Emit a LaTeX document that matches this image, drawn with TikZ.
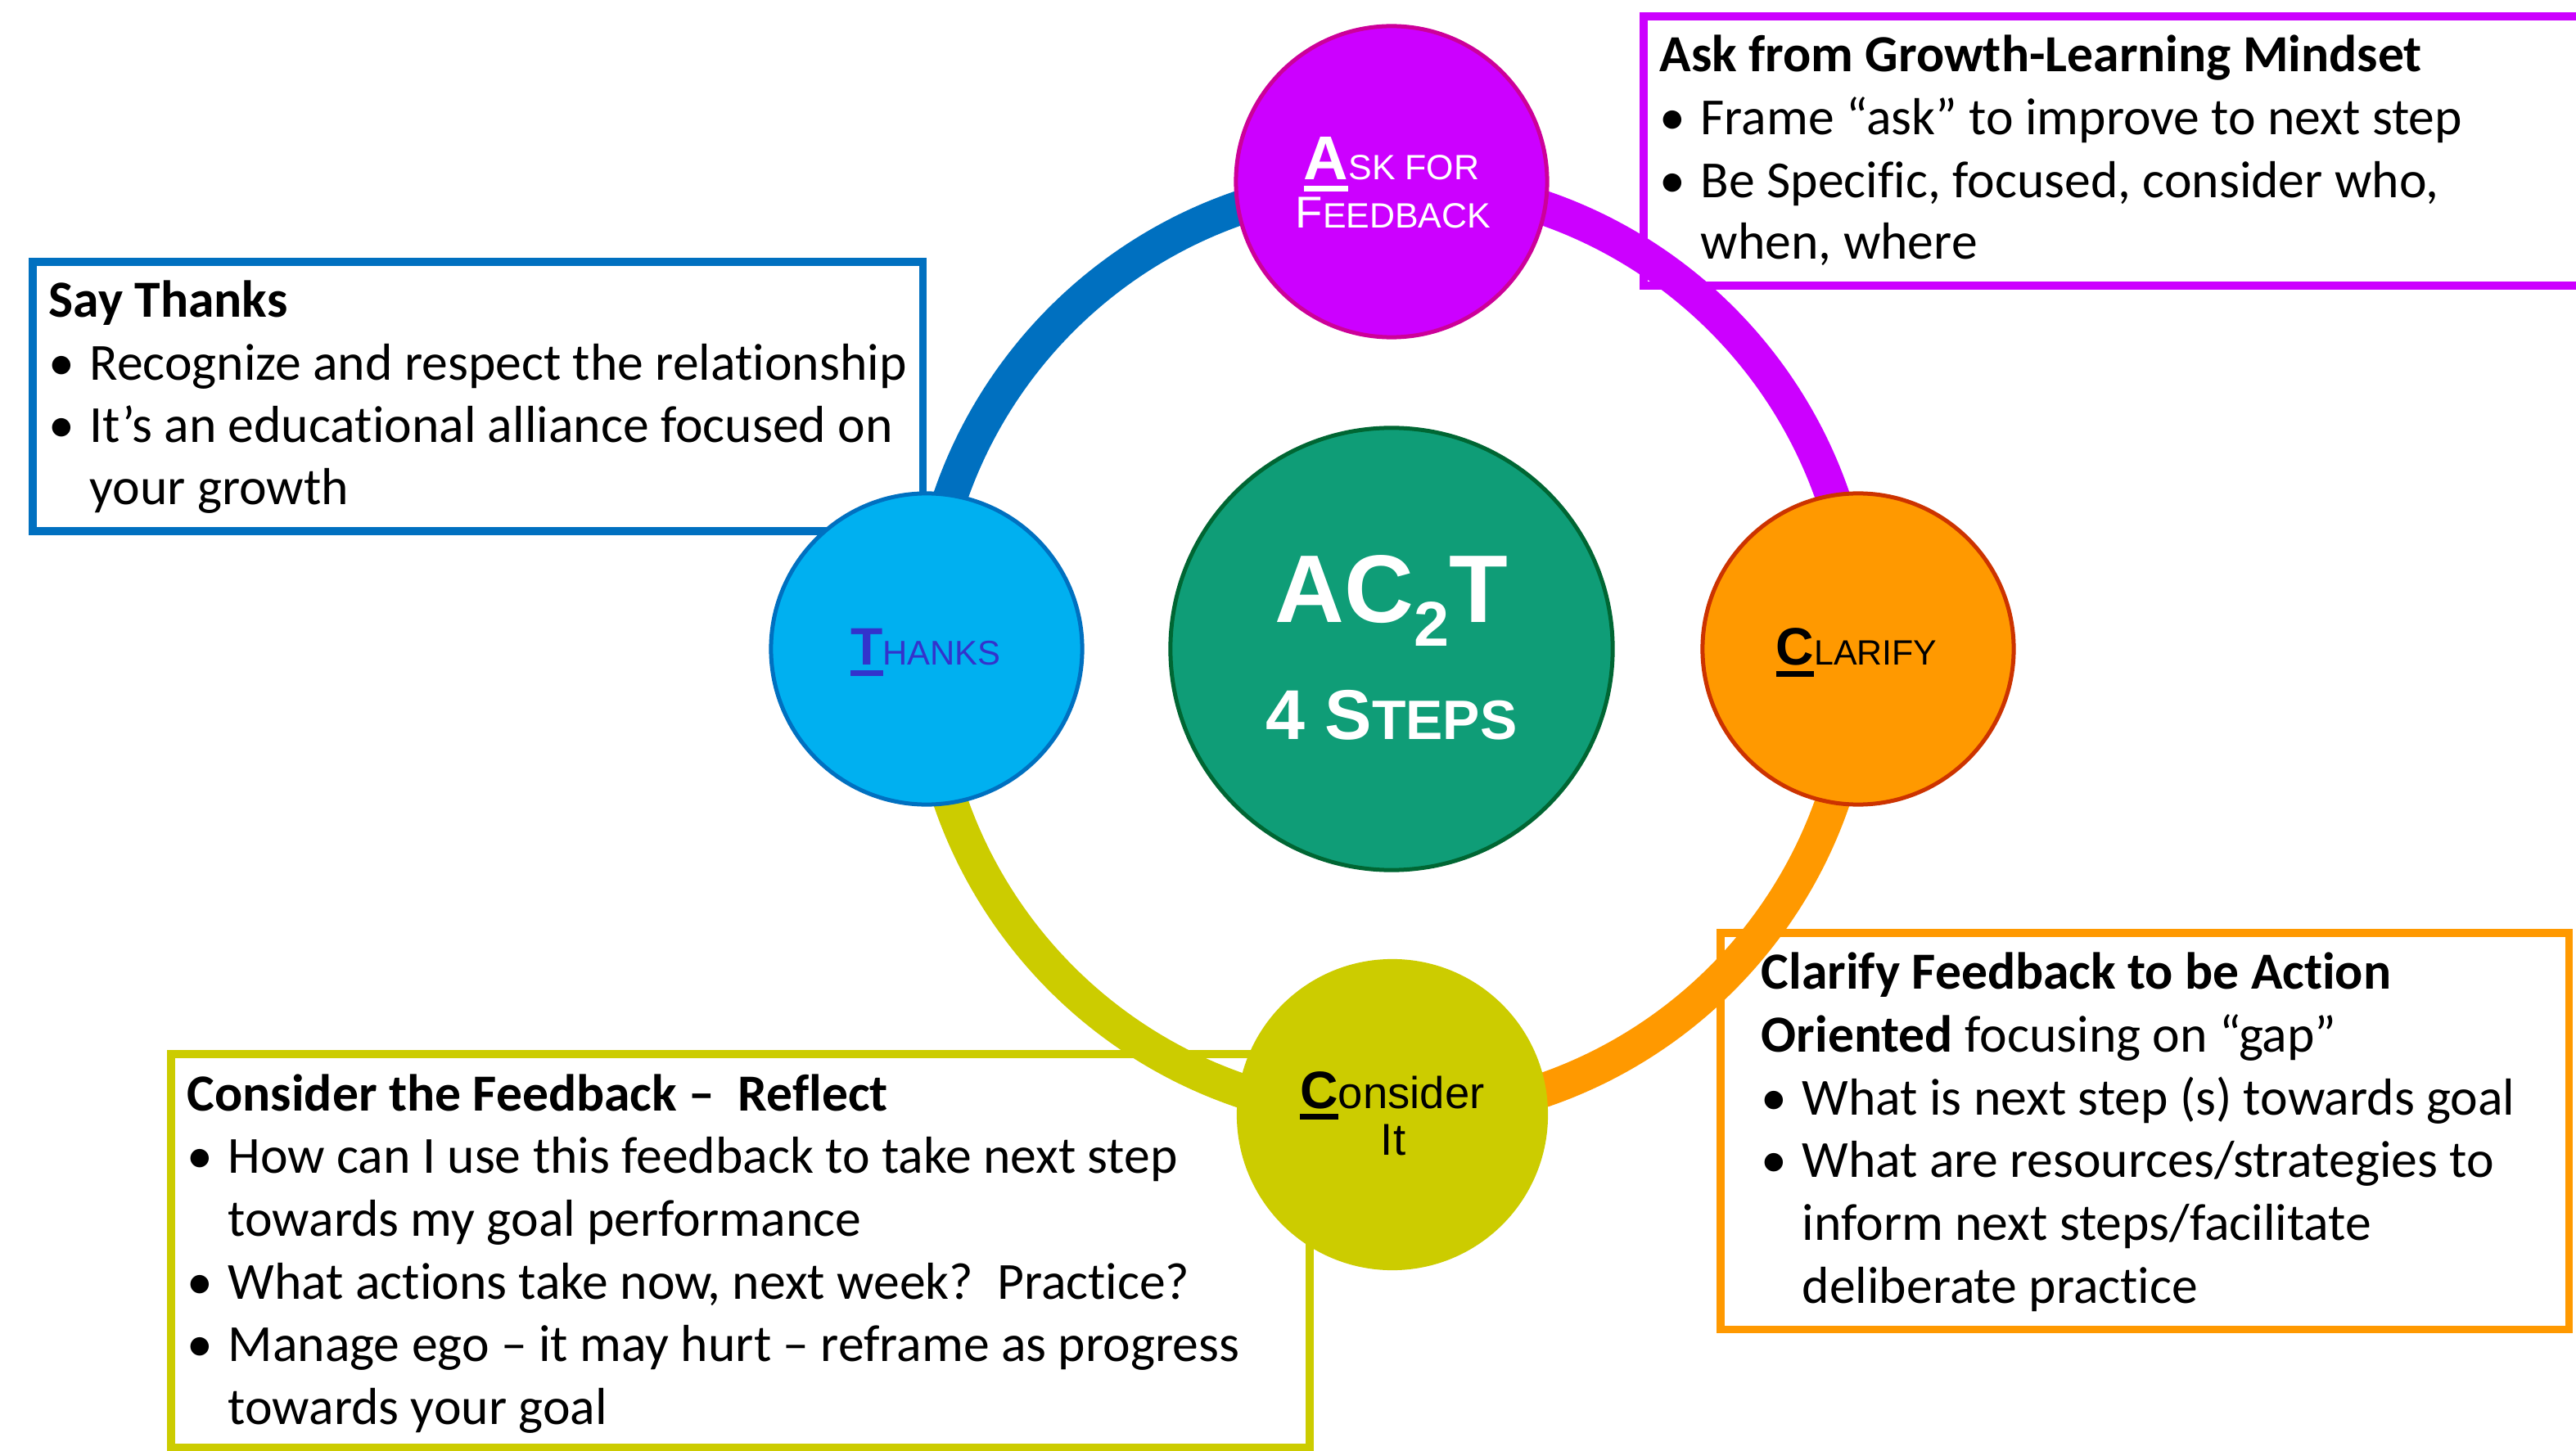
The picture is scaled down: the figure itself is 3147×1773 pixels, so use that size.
\documentclass[tikz,border=0pt]{standalone}
\usepackage{fontspec}
\setmainfont{Carlito}[Ligatures=NoCommon]
\newfontfamily\arialfont{Liberation Sans}
\usetikzlibrary{calc}

\definecolor{tblue}{HTML}{0070C0}
\definecolor{tmag}{HTML}{CC00FF}
\definecolor{torange}{HTML}{FF9900}
\definecolor{tolive}{HTML}{CCCC00}
\definecolor{tsky}{HTML}{00B0F0}
\definecolor{tindigo}{HTML}{3333CC}
\definecolor{tpink}{HTML}{CC0099}
\definecolor{trust}{HTML}{CC3300}
\definecolor{tgreen}{HTML}{0F9D77}
\definecolor{tdkgreen}{HTML}{006633}

% a letter with a heavy underline, as used for the step initials
\newcommand\ulc[1]{\setbox0\hbox{#1}\rlap{\rule[-4pt]{\wd0}{2pt}}\box0}
% one bulleted line of box text: name, x, y, text
\newcommand\bitem[4]{%
  \node[bodytext] (#1b) at (#2,#3) {\textbullet};
  \node[bodytext] (#1) at (#2+50,#3) {#4};}

\begin{document}
\begin{tikzpicture}[x=0.01cm,y=0.01cm,
  infobox/.style={draw, fill=white, line width=0.095cm, rectangle, inner sep=0pt, outer sep=0pt, anchor=north west},
  ring/.style={line width=0.42cm},
  stepcircle/.style={circle, inner sep=0pt, outer sep=0pt, minimum size=3.8cm, line width=0.05cm},
  bodytext/.style={anchor=base west, inner sep=0pt, font=\fontsize{18.1}{21}\selectfont},
  steplabel/.style={anchor=base, inner sep=0pt, font=\arialfont},
]
\useasboundingbox (0,0) rectangle (3147,-1773);
\clip (0,0) rectangle (3147,-1773);
\fill[white] (0,0) rectangle (3147,-1773);

% text boxes
\node[infobox, draw=tblue, minimum width=10.87cm, minimum height=3.29cm] (thanksbox) at (40,-320) {};
\node[infobox, draw=tmag, minimum width=11.62cm, minimum height=3.29cm] (askbox) at (2008,-20) {};
\node[infobox, draw=torange, minimum width=10.36cm, minimum height=4.84cm] (clarifybox) at (2102,-1140) {};
\node[infobox, draw=tolive, minimum width=13.90cm, minimum height=4.80cm] (considerbox) at (209,-1288) {};

% the ring joining the four steps
\coordinate (hub) at (1700,-793);
\draw[ring, tblue]   (hub) ++(180:570) arc[start angle=180, end angle=90, radius=570];
\draw[ring, tmag]    (hub) ++(90:570)  arc[start angle=90, end angle=0, radius=570];
\draw[ring, torange] (hub) ++(0:570)   arc[start angle=0, end angle=-90, radius=570];
\draw[ring, tolive]  (hub) ++(-90:570) arc[start angle=-90, end angle=-180, radius=570];

% step circles
\node[stepcircle, fill=tmag, draw=tpink] (ask) at (1700,-222) {};
\node[stepcircle, fill=tsky, draw=tblue] (thanks) at (1132,-793) {};
\node[stepcircle, fill=torange, draw=trust] (clarify) at (2270,-793) {};
\node[stepcircle, fill=tolive] (consider) at (1701,-1362) {};
\node[circle, inner sep=0pt, minimum size=5.4cm, fill=tgreen, draw=tdkgreen, line width=0.05cm] (core) at (hub) {};

% step labels
\node[steplabel, text=white] (askl1) at (1700,-220)
  {\fontsize{21.5}{24}\selectfont\bfseries\ulc{A}\mdseries\fontsize{12.2}{14}\selectfont SK FOR};
\node[steplabel, text=white] (askl2) at (1702,-279)
  {\fontsize{15.5}{18}\selectfont F\fontsize{12.2}{14}\selectfont EEDBACK};
\node[steplabel, text=tindigo] (thanksl) at (1131,-812)
  {\fontsize{18.3}{21}\selectfont\bfseries\ulc{T}\mdseries\fontsize{11.9}{14}\selectfont HANKS};
\node[steplabel, text=black] (clarifyl) at (2268,-813)
  {\fontsize{18.3}{21}\selectfont\bfseries\ulc{C}\mdseries\fontsize{12.2}{14}\selectfont LARIFY};
\node[steplabel, text=black] (considerl1) at (1701,-1354)
  {\fontsize{18.3}{21}\selectfont\bfseries\ulc{C}\mdseries\fontsize{15.5}{18}\selectfont onsider};
\node[steplabel, text=black] (considerl2) at (1702,-1411)
  {\fontsize{15.5}{18}\selectfont It};
\node[steplabel, text=white] (corel1) at (1700,-761)
  {\bfseries\fontsize{33.4}{38}\selectfont AC\raisebox{-8.2pt}{\fontsize{22}{25}\selectfont 2}T};
\node[steplabel, text=white] (corel2) at (1700,-903)
  {\bfseries\fontsize{24.5}{28}\selectfont 4 S\fontsize{19.3}{22}\selectfont TEPS};

% Say Thanks
\node[bodytext] (st0) at (59,-388) {\bfseries Say Thanks};
\bitem{st1}{59}{-465}{Recognize and respect the relationship}
\bitem{st2}{59}{-541}{It’s an educational alliance focused on}
\node[bodytext] (st3) at (109,-617) {your growth};

% Ask
\node[bodytext] (ak0) at (2027,-88) {\bfseries Ask from Growth-Learning Mindset};
\bitem{ak1}{2027}{-165}{Frame “ask” to improve to next step}
\bitem{ak2}{2027}{-242}{Be Specific, focused, consider who,}
\node[bodytext] (ak3) at (2077,-317) {when, where};

% Clarify
\node[bodytext] (cl0) at (2151,-1208) {\bfseries Clarify Feedback to be Action};
\node[bodytext] (cl1) at (2151,-1285) {{\bfseries Oriented} focusing on “gap”};
\bitem{cl2}{2151}{-1362}{What is next step (s) towards goal}
\bitem{cl3}{2151}{-1438}{What are resources/strategies to}
\node[bodytext] (cl4) at (2201,-1515) {inform next steps/facilitate};
\node[bodytext] (cl5) at (2201,-1592) {deliberate practice};

% Consider
\node[bodytext] (cn0) at (228,-1357) {\bfseries Consider the Feedback –\ \ Reflect};
\bitem{cn1}{228}{-1433}{How can I use this feedback to take next step}
\node[bodytext] (cn2) at (278,-1510) {towards my goal performance};
\bitem{cn3}{228}{-1587}{What actions take now, next week?\ \ Practice?}
\bitem{cn4}{228}{-1663}{Manage ego – it may hurt – reframe as progress}
\node[bodytext] (cn5) at (278,-1740) {towards your goal};
\end{tikzpicture}
\end{document}
